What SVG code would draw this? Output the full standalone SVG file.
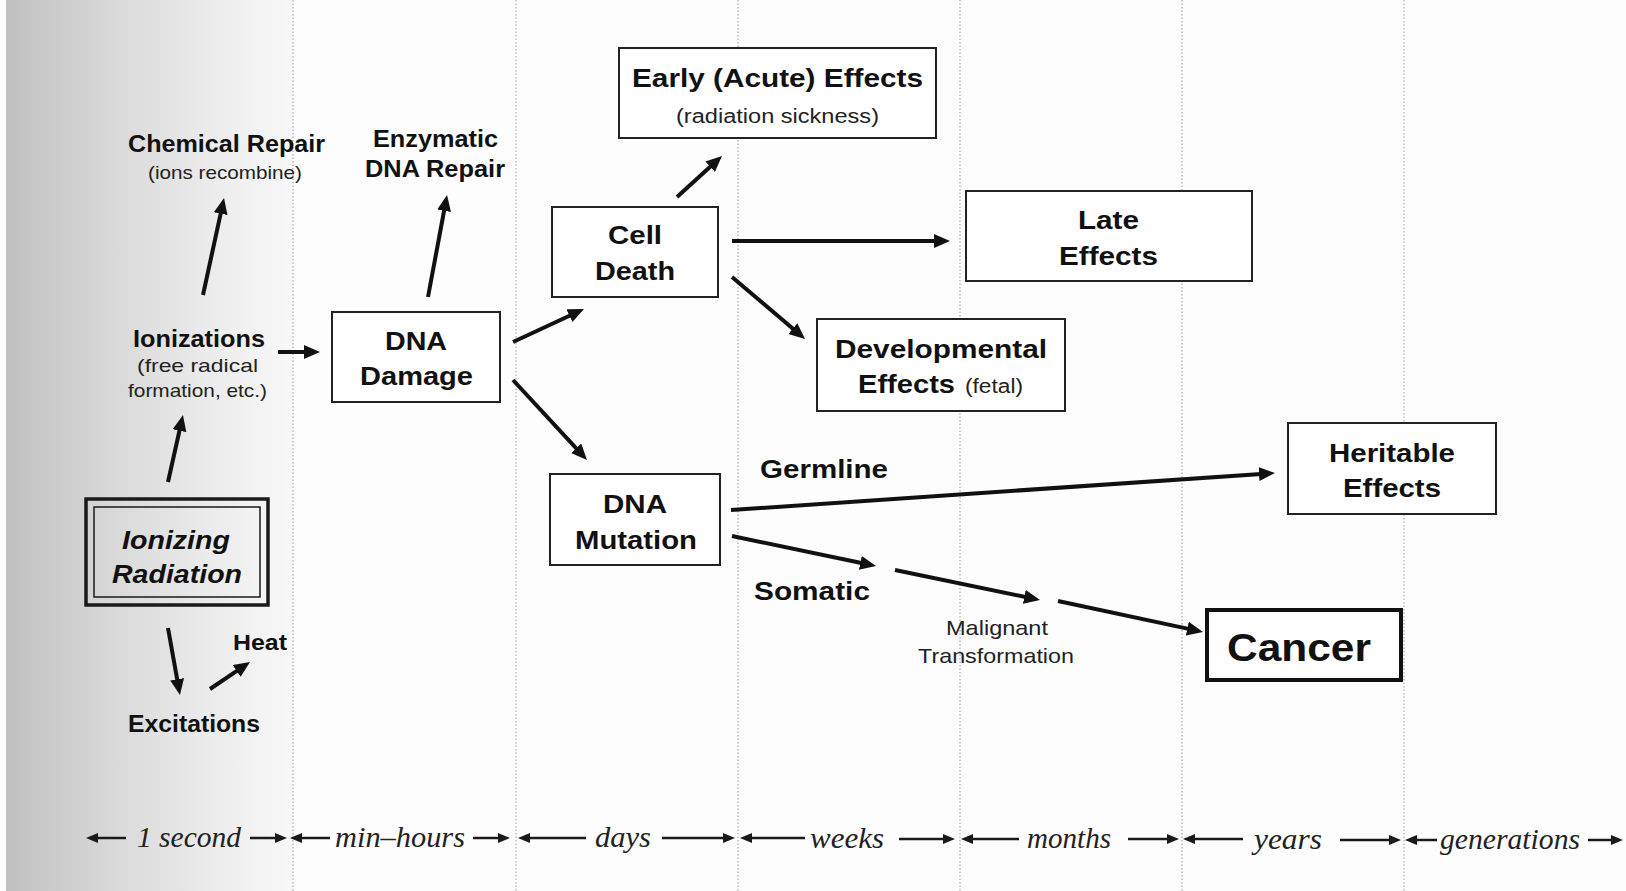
<svg xmlns="http://www.w3.org/2000/svg" width="1626" height="891" viewBox="0 0 1626 891">
<defs>
<linearGradient id="band" x1="0" y1="0" x2="1" y2="0">
<stop offset="0" stop-color="#c0c0c0"/>
<stop offset="0.3" stop-color="#d4d4d4"/>
<stop offset="0.7" stop-color="#ebebeb"/>
<stop offset="1" stop-color="#f8f8f8"/>
</linearGradient>
<marker id="ah" markerUnits="userSpaceOnUse" markerWidth="18" markerHeight="16" refX="6" refY="7" orient="auto">
<path d="M0,0 L16,7 L0,14 z" fill="#111"/>
</marker>
<marker id="th" markerUnits="userSpaceOnUse" markerWidth="14" markerHeight="12" refX="4" refY="5" orient="auto">
<path d="M0,0 L12,5 L0,10 z" fill="#1a1a1a"/>
</marker>
<style>
.b{font-family:"Liberation Sans",Arial,sans-serif;font-weight:bold;fill:#111;text-anchor:middle}
.r{font-family:"Liberation Sans",Arial,sans-serif;fill:#222;text-anchor:middle}
.t{font-family:"Liberation Serif","Times New Roman",serif;font-style:italic;fill:#222;text-anchor:middle;font-size:29px}
.box{fill:#fff;stroke:#222;stroke-width:2}
.grid{stroke:#9a9a9a;stroke-width:1;stroke-dasharray:1.5 2}
.arr{stroke:#111;stroke-width:4;fill:none;marker-end:url(#ah)}
.tl{stroke:#1a1a1a;stroke-width:2.5;fill:none;marker-end:url(#th)}
</style>
</defs>
<rect x="0" y="0" width="1626" height="891" fill="#fdfdfd"/>
<rect x="6" y="0" width="287" height="891" fill="url(#band)"/>
<g id="gridlines">
<line class="grid" x1="293" y1="0" x2="293" y2="891"/>
<line class="grid" x1="516" y1="0" x2="516" y2="891"/>
<line class="grid" x1="738" y1="0" x2="738" y2="891"/>
<line class="grid" x1="960" y1="0" x2="960" y2="891"/>
<line class="grid" x1="1182" y1="0" x2="1182" y2="891"/>
<line class="grid" x1="1404" y1="0" x2="1404" y2="891"/>
</g>
<g id="connectors">
<line class="arr" x1="168" y1="482" x2="180.8" y2="424.8"/>
<line class="arr" x1="203" y1="295" x2="221.9" y2="207.8"/>
<line class="arr" x1="168" y1="628" x2="178.2" y2="685.2"/>
<line class="arr" x1="210" y1="689" x2="241.7" y2="667.6"/>
<line class="arr" x1="278" y1="352" x2="310" y2="352"/>
<line class="arr" x1="428" y1="297" x2="445.2" y2="204.8"/>
<line class="arr" x1="513" y1="342" x2="574.9" y2="313.2"/>
<line class="arr" x1="513" y1="380" x2="580.2" y2="452.7"/>
<line class="arr" x1="677" y1="197" x2="714.6" y2="162.7"/>
<line class="arr" x1="732" y1="241" x2="940" y2="241"/>
<line class="arr" x1="732" y1="277" x2="797.4" y2="332.5"/>
<line class="arr" x1="731" y1="510" x2="1265" y2="473.7"/>
<line class="arr" x1="732" y1="536" x2="866.2" y2="564"/>
<line class="arr" x1="895" y1="570" x2="1030.2" y2="598"/>
<line class="arr" x1="1058" y1="601" x2="1193.2" y2="629.9"/>
</g>
<g id="ionizing-radiation">
<rect x="86" y="499" width="182" height="106" fill="none" stroke="#1a1a1a" stroke-width="3.5"/>
<rect x="94" y="507" width="166" height="90" fill="none" stroke="#1a1a1a" stroke-width="1.5"/>
<text class="b" x="176" y="549" font-size="26" font-style="italic" textLength="108" lengthAdjust="spacingAndGlyphs">Ionizing</text>
<text class="b" x="177" y="583" font-size="26" font-style="italic" textLength="130" lengthAdjust="spacingAndGlyphs">Radiation</text>
</g>
<g id="chemical-repair">
<text class="b" x="226.5" y="152" font-size="23" textLength="197" lengthAdjust="spacingAndGlyphs">Chemical Repair</text>
<text class="r" x="225" y="179" font-size="19" textLength="154" lengthAdjust="spacingAndGlyphs">(ions recombine)</text>
</g>
<g id="ionizations">
<text class="b" x="199" y="347" font-size="24" textLength="132" lengthAdjust="spacingAndGlyphs">Ionizations</text>
<text class="r" x="197.5" y="372" font-size="19" textLength="121" lengthAdjust="spacingAndGlyphs">(free radical</text>
<text class="r" x="197.5" y="397" font-size="19" textLength="139" lengthAdjust="spacingAndGlyphs">formation, etc.)</text>
</g>
<g id="heat">
<text class="b" x="260" y="650" font-size="22" textLength="54" lengthAdjust="spacingAndGlyphs">Heat</text>
</g>
<g id="excitations">
<text class="b" x="194" y="732" font-size="23" textLength="132" lengthAdjust="spacingAndGlyphs">Excitations</text>
</g>
<g id="enzymatic-repair">
<text class="b" x="435.5" y="147" font-size="23" textLength="125" lengthAdjust="spacingAndGlyphs">Enzymatic</text>
<text class="b" x="435" y="177" font-size="23" textLength="140" lengthAdjust="spacingAndGlyphs">DNA Repair</text>
</g>
<g id="dna-damage">
<rect class="box" x="332" y="312" width="168" height="90"/>
<text class="b" x="416" y="350" font-size="26" textLength="62" lengthAdjust="spacingAndGlyphs">DNA</text>
<text class="b" x="416.5" y="385" font-size="26" textLength="113" lengthAdjust="spacingAndGlyphs">Damage</text>
</g>
<g id="cell-death">
<rect class="box" x="552" y="207" width="166" height="90"/>
<text class="b" x="635" y="244" font-size="26" textLength="54" lengthAdjust="spacingAndGlyphs">Cell</text>
<text class="b" x="635" y="280" font-size="26" textLength="80" lengthAdjust="spacingAndGlyphs">Death</text>
</g>
<g id="early-effects">
<rect class="box" x="619" y="48" width="317" height="90"/>
<text class="b" x="777.5" y="87" font-size="26" textLength="291" lengthAdjust="spacingAndGlyphs">Early (Acute) Effects</text>
<text class="r" x="777.5" y="123" font-size="20" textLength="203" lengthAdjust="spacingAndGlyphs">(radiation sickness)</text>
</g>
<g id="late-effects">
<rect class="box" x="966" y="191" width="286" height="90"/>
<text class="b" x="1108.5" y="229" font-size="26" textLength="61" lengthAdjust="spacingAndGlyphs">Late</text>
<text class="b" x="1108.5" y="265" font-size="26" textLength="99" lengthAdjust="spacingAndGlyphs">Effects</text>
</g>
<g id="developmental-effects">
<rect class="box" x="817" y="319" width="248" height="92"/>
<text class="b" x="941" y="358" font-size="26" textLength="212" lengthAdjust="spacingAndGlyphs">Developmental</text>
<text class="b" x="906.5" y="393" font-size="26" textLength="97" lengthAdjust="spacingAndGlyphs">Effects</text>
<text class="r" x="994" y="393" font-size="20" textLength="58" lengthAdjust="spacingAndGlyphs">(fetal)</text>
</g>
<g id="dna-mutation">
<rect class="box" x="550" y="474" width="170" height="91"/>
<text class="b" x="635" y="513" font-size="26" textLength="64" lengthAdjust="spacingAndGlyphs">DNA</text>
<text class="b" x="636" y="549" font-size="26" textLength="122" lengthAdjust="spacingAndGlyphs">Mutation</text>
</g>
<g id="germline-label">
<text class="b" x="824" y="478" font-size="25" textLength="128" lengthAdjust="spacingAndGlyphs">Germline</text>
</g>
<g id="somatic-label">
<text class="b" x="812" y="600" font-size="25" textLength="116" lengthAdjust="spacingAndGlyphs">Somatic</text>
</g>
<g id="malignant-transformation">
<text class="r" x="997" y="635" font-size="21" textLength="102" lengthAdjust="spacingAndGlyphs">Malignant</text>
<text class="r" x="996" y="663" font-size="21" textLength="156" lengthAdjust="spacingAndGlyphs">Transformation</text>
</g>
<g id="heritable-effects">
<rect class="box" x="1288" y="423" width="208" height="91"/>
<text class="b" x="1392" y="462" font-size="26" textLength="126" lengthAdjust="spacingAndGlyphs">Heritable</text>
<text class="b" x="1392" y="497" font-size="26" textLength="98" lengthAdjust="spacingAndGlyphs">Effects</text>
</g>
<g id="cancer">
<rect x="1207" y="610" width="194" height="70" fill="#fff" stroke="#111" stroke-width="4"/>
<text class="b" x="1299" y="661" font-size="38" textLength="144" lengthAdjust="spacingAndGlyphs">Cancer</text>
</g>
<g id="timeline">
<line class="tl" x1="126" y1="838" x2="94" y2="838"/>
<text class="t" x="189" y="847" textLength="104" lengthAdjust="spacingAndGlyphs">1 second</text>
<line class="tl" x1="250" y1="838" x2="279" y2="838"/>
<line class="tl" x1="330" y1="838" x2="298" y2="838"/>
<text class="t" x="400" y="847" textLength="130" lengthAdjust="spacingAndGlyphs">min–hours</text>
<line class="tl" x1="473" y1="838" x2="502" y2="838"/>
<line class="tl" x1="586" y1="838" x2="526" y2="838"/>
<text class="t" x="623" y="847" textLength="56" lengthAdjust="spacingAndGlyphs">days</text>
<line class="tl" x1="662" y1="838" x2="727" y2="838"/>
<line class="tl" x1="805" y1="838" x2="748" y2="838"/>
<text class="t" x="847" y="848" textLength="74" lengthAdjust="spacingAndGlyphs">weeks</text>
<line class="tl" x1="899" y1="839" x2="947" y2="839"/>
<line class="tl" x1="1019" y1="839" x2="969" y2="839"/>
<text class="t" x="1069" y="848" textLength="84" lengthAdjust="spacingAndGlyphs">months</text>
<line class="tl" x1="1128" y1="839" x2="1171" y2="839"/>
<line class="tl" x1="1243" y1="839" x2="1191" y2="839"/>
<text class="t" x="1288" y="849" textLength="68" lengthAdjust="spacingAndGlyphs">years</text>
<line class="tl" x1="1340" y1="840" x2="1393" y2="840"/>
<line class="tl" x1="1437" y1="840" x2="1413" y2="840"/>
<text class="t" x="1510" y="849" textLength="140" lengthAdjust="spacingAndGlyphs">generations</text>
<line class="tl" x1="1588" y1="840" x2="1615" y2="840"/>
</g>
</svg>
